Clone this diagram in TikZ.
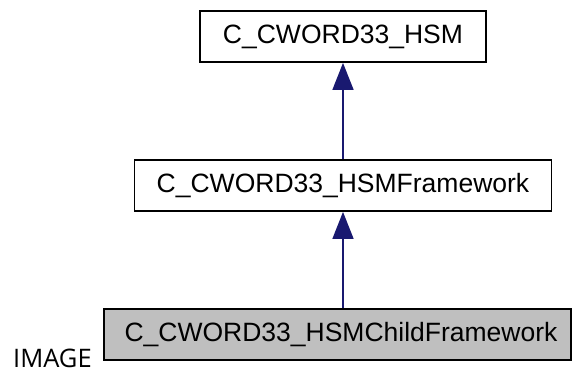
\documentclass[tikz,border=0pt]{standalone}
\usepackage{fontspec}
\setmainfont{Liberation Sans}
\newfontfamily\capfont{Open Sans}
\usetikzlibrary{arrows.meta}
\definecolor{edgeblue}{HTML}{191970}
\definecolor{shade}{HTML}{BFBFBF}
\begin{document}
\begin{tikzpicture}[x=1pt,y=1pt,
  cls/.style={draw=black, line width=1.8pt, minimum height=51pt, inner sep=0pt,
    font=\fontsize{26.5}{30}\selectfont},
  inherit/.style={draw=edgeblue, line width=1.5pt,
    -{Triangle[length=27pt,width=21pt,fill=edgeblue]}}]
\useasboundingbox (0,0) rectangle (572,375);
% class boxes
\node[cls, minimum width=286pt] (hsm) at (343,338.5) {C\_CWORD33\_HSM};
\node[cls, minimum width=417pt] (fw) at (343,189.5) {C\_CWORD33\_HSMFramework};
\node[cls, fill=shade, minimum width=467pt] (child) at (337.5,40.5)
  {\hspace*{7pt}C\_CWORD33\_HSMChildFramework};
% inheritance edges
\draw[inherit] (hsm.south |- fw.north) -- (hsm.south);
\draw[inherit] (fw.south |- child.north) -- (fw.south);
% caption
\node[font=\capfont\fontsize{25.5}{30}\selectfont, anchor=base west, inner sep=0pt]
  (tag) at (13,8) {IMAGE};
\end{tikzpicture}
\end{document}
